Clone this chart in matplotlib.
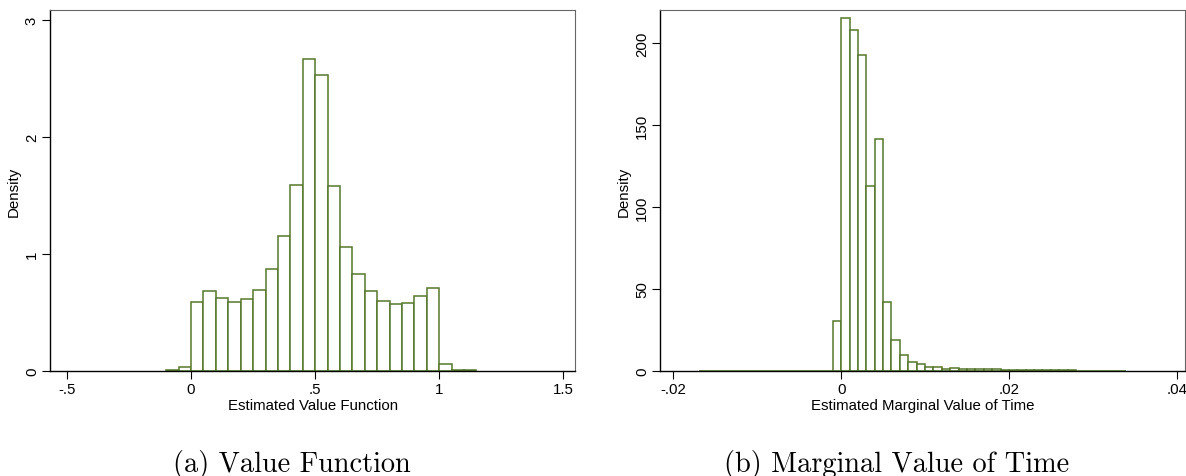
import matplotlib
matplotlib.use("Agg")
import numpy as np
import matplotlib.pyplot as plt

# value function histogram: bins of width .05 starting at -.1
vf_start = -0.10
vf_width = 0.05
vf_density = [0.01, 0.037, 0.594, 0.685, 0.622, 0.594, 0.619, 0.693, 0.869,
              1.156, 1.591, 2.670, 2.534, 1.585, 1.057, 0.827, 0.682, 0.599,
              0.574, 0.585, 0.642, 0.713, 0.063, 0.008, 0.005]

# marginal value of time histogram: bins of width .001 starting at -.017
mv_start = -0.017
mv_width = 0.001
mv_density = [0.05] * 16 + [
    30.3, 215.1, 208.0, 192.5, 112.8, 141.5, 42.0, 19.1, 10.0, 5.5, 4.3,
    2.4, 2.4, 1.4, 1.8, 1.2, 1.2, 1.4, 1.0, 1.0, 0.9, 0.8,
    0.7, 0.6, 0.5, 0.5, 0.4, 0.4, 0.4, 0.3, 0.3, 0.3, 0.3, 0.3, 0.2]

vf_xticks = [-0.5, 0, 0.5, 1, 1.5]
vf_xlabels = ["-.5", "0", ".5", "1", "1.5"]
vf_yticks = [0, 1, 2, 3]
mv_xticks = [-0.02, 0, 0.02, 0.04]
mv_xlabels = ["-.02", "0", ".02", ".04"]
mv_yticks = [0, 50, 100, 150, 200]

plt.rcParams['font.family'] = ['Liberation Sans', 'DejaVu Sans']
green = "#55772b"
fs = 10.8

fig = plt.figure(figsize=(11.86, 4.77), dpi=100)
ax1 = fig.add_axes([0.0422, 0.2201, 0.4427, 0.7568])
ax2 = fig.add_axes([0.5565, 0.2201, 0.4427, 0.7568])


def draw_hist(ax, start, width, dens):
    edges = start + width * np.arange(len(dens))
    ax.bar(edges, dens, width=width, align="edge", facecolor="white",
           edgecolor=green, linewidth=1.1)


def style(ax, xticks, xlabels, yticks, xlabel):
    ax.set_xticks(xticks)
    ax.set_xticklabels(xlabels)
    ax.set_yticks(yticks)
    ax.set_yticklabels([str(t) for t in yticks], rotation=90, va="center")
    ax.set_xlabel(xlabel, fontsize=fs, labelpad=1)
    ax.set_ylabel("Density", fontsize=fs, labelpad=3)
    ax.tick_params(labelsize=fs, length=6, width=0.8, direction="out", pad=2)
    for s in ["top", "right"]:
        ax.spines[s].set_color("#666666")
        ax.spines[s].set_linewidth(0.8)
    for s in ["left", "bottom"]:
        ax.spines[s].set_color("black")
        ax.spines[s].set_linewidth(1.0)


draw_hist(ax1, vf_start, vf_width, vf_density)
ax1.set_xlim(-0.5686, 1.548)
ax1.set_ylim(0, 3.088)
style(ax1, vf_xticks, vf_xlabels, vf_yticks, "Estimated Value Function")

draw_hist(ax2, mv_start, mv_width, mv_density)
ax2.set_xlim(-0.0216, 0.041)
ax2.set_ylim(0, 220)
style(ax2, mv_xticks, mv_xlabels, mv_yticks, "Estimated Marginal Value of Time")

fig.text(0.2458, 0.0105, "(a) Value Function", ha="center", va="baseline",
         fontsize=20.4, family="cmr10")
fig.text(0.756, 0.0105, "(b) Marginal Value of Time", ha="center",
         va="baseline", fontsize=20.4, family="cmr10")

fig.savefig("out.png", dpi=100)
plt.close()
